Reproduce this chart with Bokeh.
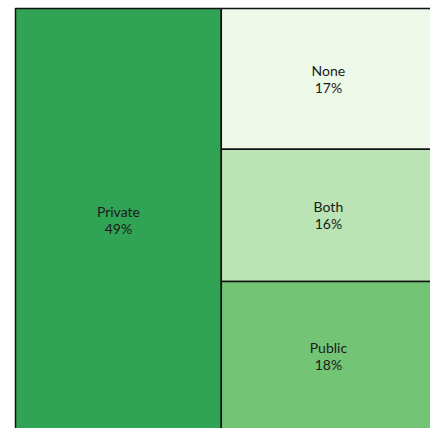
from bokeh.plotting import figure
from bokeh.models import ColumnDataSource, Range1d
from bokeh.core.properties import value
from bokeh.embed import file_html
from bokeh.resources import INLINE

categories = ["Private", "None", "Both", "Public"]
shares = [49, 17, 16, 18]
colors = ["#31a354", "#edf8e9", "#bae4b3", "#74c476"]

total = float(sum(shares))
# squarified-style layout: first item takes a full-height column, rest stacked on the right
left, right, top, bottom, cx, cy = [], [], [], [], [], []
w0 = shares[0] / total
left.append(0.0); right.append(w0); top.append(1.0); bottom.append(0.0)
rest = sum(shares[1:])
y = 1.0
for s in shares[1:]:
    h = s / rest
    left.append(w0); right.append(1.0); top.append(y); bottom.append(y - h)
    y -= h
for l, r, t, b in zip(left, right, top, bottom):
    cx.append((l + r) / 2); cy.append((t + b) / 2)

labels = [f"{c}\n{s}%" for c, s in zip(categories, shares)]

src = ColumnDataSource(dict(left=left, right=right, top=top, bottom=bottom,
                            cx=cx, cy=cy, color=colors, label=labels))

W, H = 430, 428
side_x = 420.0
side_y = 422.0
p = figure(width=W, height=H, output_backend="svg", toolbar_location=None,
           x_range=Range1d(-15 / side_x, (W - 15) / side_x),
           y_range=Range1d(2 / side_y, 1 + 8 / side_y),
           min_border=0)
p.axis.visible = False
p.grid.visible = False
p.outline_line_color = None
p.background_fill_color = "white"
p.border_fill_color = "white"

p.quad(left="left", right="right", top="top", bottom="bottom", source=src,
       fill_color="color", line_color="#111111", line_width=1.5)
p.text(x="cx", y="cy", text="label", source=src, text_align="center",
       text_baseline="middle", text_font=value("Lato"), text_font_size="14px",
       text_color="#1a1a1a", text_line_height=1.0)

open("out.html", "w").write(file_html(p, INLINE))
